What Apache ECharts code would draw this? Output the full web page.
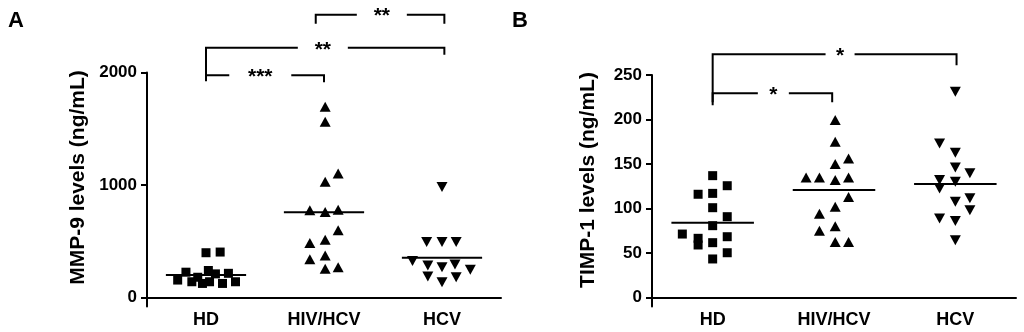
<!DOCTYPE html>
<html>
<head>
<meta charset="utf-8">
<script src="https://cdn.jsdelivr.net/npm/echarts@6/dist/echarts.min.js"></script>
<style>
html,body{margin:0;padding:0;background:#fff;}
#main{width:1024px;height:332px;}
</style>
</head>
<body>
<div id="main"></div>
<script>
// ---------- DATA ----------
const categories = ['HD', 'HIV/HCV', 'HCV'];

// Panel A: MMP-9 (ng/mL)
const mmpHD      = [398, 404, 155, 225, 140, 180, 125, 240, 140, 210, 125, 215, 140];
const mmpHD_x    = [0.00, 0.12, -0.24, -0.17, -0.12, -0.07, -0.03, 0.02, 0.03, 0.08, 0.14, 0.19, 0.25];
const mmpHIV     = [1696, 1563, 1102, 1028, 775, 760, 780, 597, 484, 514, 339, 374, 256, 270];
const mmpHIV_x   = [0.01, 0.01, 0.12, 0.01, -0.12, 0.01, 0.12, 0.12, -0.12, 0.01, -0.12, 0.01, 0.01, 0.12];
const mmpHCV     = [983, 493, 493, 493, 324, 285, 270, 294, 247, 187, 136, 181];
const mmpHCV_x   = [0.00, -0.13, 0.00, 0.12, -0.25, -0.12, 0.00, 0.11, 0.24, -0.12, 0.00, 0.12];
const mmpMedian  = [200, 758, 354];
const mmpTicks   = [0, 1000, 2000];
const mmpSig     = ['***', '**', '**'];

// Panel B: TIMP-1 (ng/mL)
const timpHD     = [136.9, 125.6, 116, 117, 100.9, 90.8, 80.7, 71.3, 66.5, 59, 68.3, 61.6, 50.3, 43.3];
const timpHD_x   = [0.00, 0.12, -0.12, 0.00, 0.00, 0.12, 0.00, -0.25, -0.12, -0.12, 0.12, 0.00, 0.12, 0.00];
const timpHIV    = [199.4, 175, 156.3, 150, 134.7, 134.7, 132, 134.7, 113, 102, 94, 80, 75, 62.5, 62.5];
const timpHIV_x  = [0.01, 0.01, 0.12, 0.01, -0.23, -0.12, 0.01, 0.12, 0.12, 0.01, -0.12, 0.01, -0.12, 0.01, 0.12];
const timpHCV    = [231.3, 173, 162.7, 146, 139.5, 132, 130, 122.6, 111.4, 107.5, 98, 88.9, 86, 64.4];
const timpHCV_x  = [0.00, -0.13, 0.00, 0.00, 0.12, -0.13, 0.00, -0.13, 0.12, 0.00, 0.12, -0.13, 0.00, 0.00];
const timpMedian = [83.9, 120.7, 127.4];
const timpTicks  = [0, 50, 100, 150, 200, 250];
const timpSig    = ['*', '*'];

// ---------- CHART ----------
const FONT = 'Liberation Sans, Arial, Helvetica, sans-serif';
const BLACK = '#000';
const chart = echarts.init(document.getElementById('main'));

function pts(vals, xs, idx) { return vals.map((v, i) => [idx + xs[i], v]); }

const symbolDefs = [
  { symbol: 'rect', size: [9, 9], rotate: 0 },
  { symbol: 'triangle', size: [11, 10], rotate: 0 },
  { symbol: 'triangle', size: [11, 10], rotate: 180 }
];

function scatterSeries(gi, groups) {
  return groups.map((g, k) => ({
    type: 'scatter', xAxisIndex: gi, yAxisIndex: gi,
    symbol: symbolDefs[k].symbol, symbolSize: symbolDefs[k].size, symbolRotate: symbolDefs[k].rotate,
    itemStyle: { color: BLACK, opacity: 1 }, silent: true, z: 3,
    data: pts(g[0], g[1], k)
  }));
}
function medianSeries(gi, meds) {
  const hw = 0.34;
  return meds.map((m, k) => ({
    type: 'line', xAxisIndex: gi, yAxisIndex: gi, symbol: 'none', silent: true, z: 4,
    lineStyle: { color: BLACK, width: 2 },
    data: [[k - hw, m], [k + hw, m]]
  }));
}

function xAxisDef(gi) {
  return {
    type: 'value', gridIndex: gi, min: -0.5, max: 2.5,
    axisLine: { show: true, onZero: true, lineStyle: { color: BLACK, width: 2 } },
    axisTick: { show: false },
    splitLine: { show: false },
    axisLabel: {
      customValues: [0, 1, 2],
      formatter: v => categories[Math.round(v)],
      color: BLACK, fontFamily: FONT, fontWeight: 'bold', fontSize: 18, margin: 5
    }
  };
}
function yAxisDef(gi, min, max, ticks) {
  return {
    type: 'value', gridIndex: gi, min: min, max: max,
    axisLine: { show: true, onZero: false, lineStyle: { color: BLACK, width: 2 } },
    axisTick: { show: true, customValues: ticks, length: 6, lineStyle: { color: BLACK, width: 2 } },
    splitLine: { show: false },
    axisLabel: {
      customValues: ticks,
      formatter: v => String(v),
      color: BLACK, fontFamily: FONT, fontWeight: 'bold', fontSize: 17, margin: 10
    }
  };
}

chart.setOption({
  backgroundColor: '#fff',
  animation: false,
  grid: [
    { left: 147, right: 523, top: 72.5, bottom: 25.5 },
    { left: 652, right: 8, top: 75, bottom: 25.6 }
  ],
  xAxis: [xAxisDef(0), xAxisDef(1)],
  yAxis: [yAxisDef(0, -80, 2000, mmpTicks), yAxisDef(1, -10, 250, timpTicks)],
  series: [].concat(
    scatterSeries(0, [[mmpHD, mmpHD_x], [mmpHIV, mmpHIV_x], [mmpHCV, mmpHCV_x]]),
    medianSeries(0, mmpMedian),
    scatterSeries(1, [[timpHD, timpHD_x], [timpHIV, timpHIV_x], [timpHCV, timpHCV_x]]),
    medianSeries(1, timpMedian)
  )
});

// ---------- annotations (brackets, titles) ----------
const brA = [
  { from: 0, to: 1, y: 1975, mid: 0.46, gap: 31, dropL: 6, dropR: 7 },
  { from: 0, to: 2.02, y: 2220, mid: 0.99, gap: 25, dropL: 33, dropR: 7 },
  { from: 0.93, to: 2.02, y: 2514, mid: 1.49, gap: 25, dropL: 9, dropR: 9 }
];
const brB = [
  { from: 0, to: 0.985, y: 229.4, mid: 0.5, gap: 15.5, dropL: 9, dropR: 9 },
  { from: 0, to: 2.01, y: 273.3, mid: 1.05, gap: 14.5, dropL: 51, dropR: 11 }
];
const graphics = [];
function addBrackets(gi, list, labels) {
  list.forEach((b, i) => {
    const p1 = chart.convertToPixel({ gridIndex: gi }, [b.from, b.y]);
    const p2 = chart.convertToPixel({ gridIndex: gi }, [b.to, b.y]);
    const pm = chart.convertToPixel({ gridIndex: gi }, [b.mid, b.y]);
    const y = p1[1];
    const ls = { stroke: BLACK, lineWidth: 2 };
    graphics.push({ type: 'polyline', silent: true, shape: { points: [[p1[0], y + b.dropL], [p1[0], y], [pm[0] - b.gap, y]] }, style: ls });
    graphics.push({ type: 'polyline', silent: true, shape: { points: [[pm[0] + b.gap, y], [p2[0], y], [p2[0], y + b.dropR]] }, style: ls });
    graphics.push({ type: 'text', silent: true, x: pm[0], y: y + 2,
      style: { text: labels[i], fill: BLACK, font: 'bold 21px ' + FONT, textAlign: 'center', textVerticalAlign: 'middle' } });
  });
}
addBrackets(0, brA, mmpSig);
addBrackets(1, brB, timpSig);

graphics.push({ type: 'text', silent: true, x: 8, y: 32,
  style: { text: 'A', fill: BLACK, font: 'bold 22px ' + FONT, textAlign: 'left', textVerticalAlign: 'bottom' } });
graphics.push({ type: 'text', silent: true, x: 512, y: 32,
  style: { text: 'B', fill: BLACK, font: 'bold 22px ' + FONT, textAlign: 'left', textVerticalAlign: 'bottom' } });
graphics.push({ type: 'text', silent: true, x: 78, y: 177.5, rotation: Math.PI / 2,
  style: { text: 'MMP-9 levels (ng/mL)', fill: BLACK, font: 'bold 21px ' + FONT, textAlign: 'center', textVerticalAlign: 'middle' } });
graphics.push({ type: 'text', silent: true, x: 588, y: 180, rotation: Math.PI / 2,
  style: { text: 'TIMP-1 levels (ng/mL)', fill: BLACK, font: 'bold 21px ' + FONT, textAlign: 'center', textVerticalAlign: 'middle' } });

chart.setOption({ graphic: graphics });
</script>
</body>
</html>
